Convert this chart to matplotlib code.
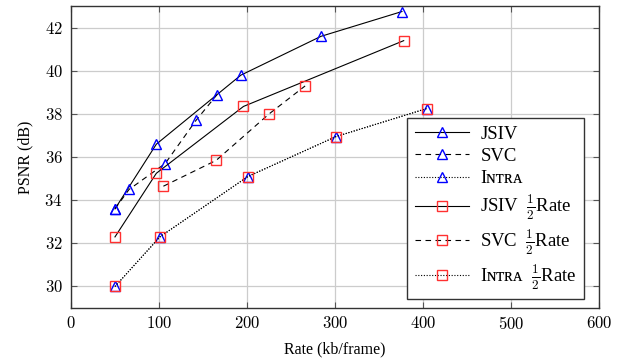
import matplotlib
matplotlib.use('Agg')
import matplotlib.pyplot as plt
from matplotlib.ticker import FuncFormatter

plt.rcParams['font.family'] = ['Liberation Serif', 'DejaVu Serif']
plt.rcParams['mathtext.fontset'] = 'cm'

# rate (kb/frame) and PSNR (dB)
jsiv_rate = [50, 97, 193, 284, 376]
jsiv_psnr = [33.6, 36.6, 39.8, 41.6, 42.75]
svc_rate = [50, 66, 107, 142, 166]
svc_psnr = [33.6, 34.5, 35.7, 37.7, 38.9]
intra_rate = [50, 101, 201, 301, 404]
intra_psnr = [30.0, 32.3, 35.1, 36.95, 38.25]

jsiv_half_rate = [50, 97, 196, 378]
jsiv_half_psnr = [32.3, 35.25, 38.35, 41.4]
svc_half_rate = [105, 165, 225, 266]
svc_half_psnr = [34.65, 35.85, 38.0, 39.3]
intra_half_rate = [50, 101, 201, 301, 404]
intra_half_psnr = [30.0, 32.3, 35.1, 36.95, 38.25]

xticks = [0, 100, 200, 300, 400, 500, 600]
yticks = [30, 32, 34, 36, 38, 40, 42]

fig = plt.figure(figsize=(6.28, 3.62), dpi=100)
ax = fig.add_axes([0.113, 0.149, 0.841, 0.834])

tri = dict(marker='^', markersize=6.5, markerfacecolor='none',
           markeredgecolor='blue', markeredgewidth=1.0, color='black', linewidth=0.8)
sq = dict(marker='s', markersize=6.5, markerfacecolor='none',
          markeredgecolor='#ff3030', markeredgewidth=1.0, color='black', linewidth=0.8)

half = r'$\frac{1}{2}$'
ax.plot(jsiv_rate, jsiv_psnr, linestyle='-', label='JSIV', **tri)
ax.plot(svc_rate, svc_psnr, linestyle=(0, (5, 4)), label='SVC', **tri)
ax.plot(intra_rate, intra_psnr, linestyle=(0, (1, 1.5)), label='Iɴᴛʀᴀ', **tri)
ax.plot(jsiv_half_rate, jsiv_half_psnr, linestyle='-', label='JSIV  ' + half + 'Rate', **sq)
ax.plot(svc_half_rate, svc_half_psnr, linestyle=(0, (5, 4)), label='SVC  ' + half + 'Rate', **sq)
ax.plot(intra_half_rate, intra_half_psnr, linestyle=(0, (1, 1.5)), label='Iɴᴛʀᴀ  ' + half + 'Rate', **sq)

ax.set_xlim(0, 600)
ax.set_ylim(29, 43)
ax.set_xticks(xticks)
ax.set_yticks(yticks)
ax.xaxis.set_major_formatter(FuncFormatter(lambda v, p: r'$%d$' % v))
ax.yaxis.set_major_formatter(FuncFormatter(lambda v, p: r'$%d$' % v))
ax.grid(True, color='#cccccc', linewidth=0.9)
ax.set_axisbelow(True)
ax.tick_params(direction='in', top=True, right=True, labelsize=12, length=4,
               color='#555555', pad=6)
for s in ax.spines.values():
    s.set_color('#333333')
    s.set_linewidth(1.0)

ax.set_xlabel('Rate (kb/frame)', fontsize=11.5, labelpad=6)
ax.set_ylabel('PSNR (dB)', fontsize=11.5, labelpad=8)

leg = ax.legend(loc='lower right', bbox_to_anchor=(0.972, 0.03), borderaxespad=0,
                fancybox=False, framealpha=1, edgecolor='#333333', fontsize=13.5,
                handlelength=2.9, handletextpad=0.6, labelspacing=0.28,
                borderpad=0.4)
leg.get_frame().set_linewidth(1.0)

fig.savefig('out.png', dpi=100)
